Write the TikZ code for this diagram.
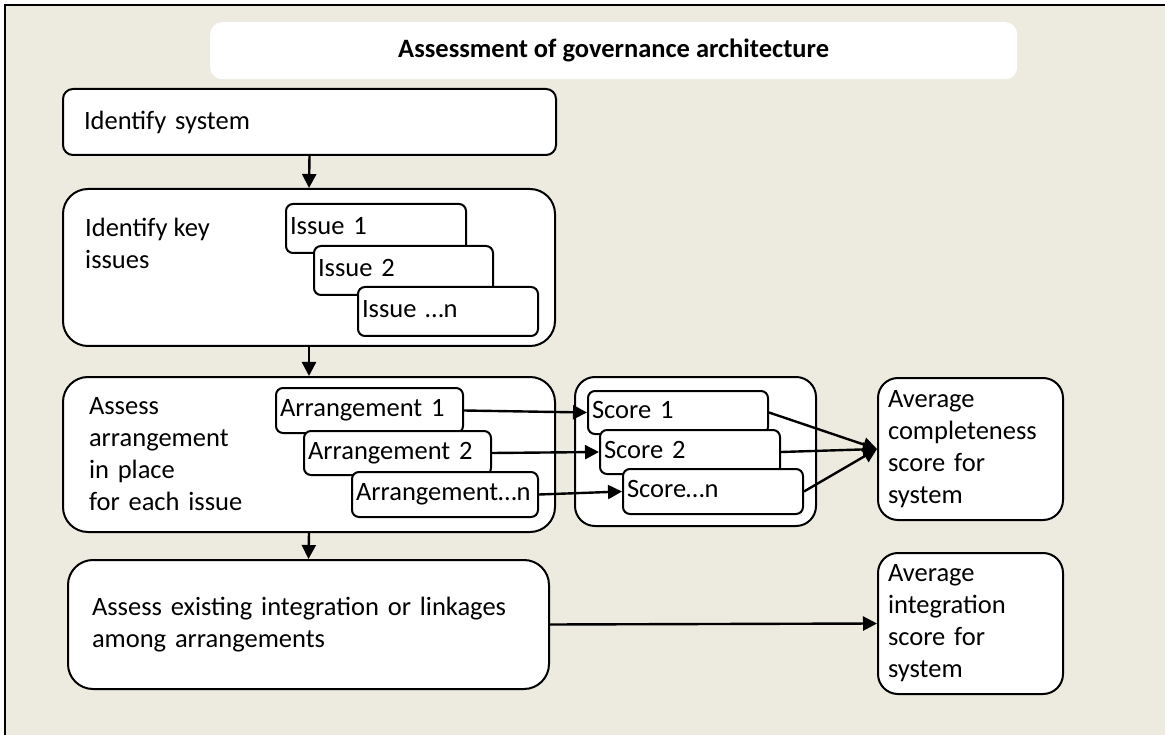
\documentclass[tikz,border=0pt]{standalone}
\usepackage{fontspec}
\setmainfont{Carlito}
\usetikzlibrary{arrows.meta}
\definecolor{paper}{HTML}{EDEAE0}
\newcommand\bodysize{\fontsize{26.5}{32}\selectfont}
\tikzset{
  panel/.style={draw=black, line width=2pt, fill=white, anchor=north west,
                align=left, inner ysep=0pt, font=\bodysize},
  card/.style={panel, rounded corners=7pt, inner xsep=4pt,
               text height=18pt, text depth=6pt},
  flow/.style={-{Triangle[length=14pt,width=14pt]}, line width=2.4pt},
}
\begin{document}
\begin{tikzpicture}[x=1pt,y=-1pt]
\useasboundingbox (0,0) rectangle (1165,735);
\clip (0,0) rectangle (1165,735);
\fill[white] (0,0) rectangle (1165,735);
% framed background panel
\draw[line width=2.2pt, fill=paper] (5,5) rectangle (1190,760);

% heading
\node[fill=white, rounded corners=12pt, anchor=north west, minimum width=807pt,
      minimum height=57pt, inner sep=0pt, font=\bodysize\bfseries] (title)
      at (210,22) {Assessment of governance architecture};

% step 1
\node[panel, rounded corners=10pt, minimum height=66pt, text width=451pt,
      inner xsep=21pt] (sys) at (62,88) {Identify system};

% step 2: key issues
\node[panel, rounded corners=25pt, minimum width=492pt, minimum height=157pt]
      (keys) at (62,188) {};
\node[anchor=north west, align=left, inner sep=0pt, font=\bodysize]
      (keystext) at (85,218) {Identify key\\issues};
\node[card, minimum height=49pt, text width=172pt] (i1) at (285,203) {Issue 1};
\node[card, minimum height=49pt, text width=171pt] (i2) at (313,245) {Issue 2};
\node[card, minimum height=49pt, text width=172pt] (in) at (357,286) {Issue …n};

% step 3: arrangements per issue
\node[panel, rounded corners=25pt, minimum height=155pt, text width=440pt,
      inner xsep=26pt] (asm) at (62,376) {Assess\\arrangement\\in place\\for each issue};
\node[card, minimum height=45pt, text width=179pt] (a1) at (275,387) {Arrangement 1};
\node[card, minimum height=44pt, text width=179pt] (a2) at (303,430) {Arrangement 2};
\node[card, minimum height=45pt, text width=178pt] (an) at (351,471) {Arrangement…n};

% scores
\node[panel, rounded corners=20pt, minimum width=241pt, minimum height=149pt]
      (scb) at (574,376) {};
\node[card, minimum height=43pt, text width=172pt] (s1) at (587,390) {Score 1};
\node[card, minimum height=44pt, text width=172pt] (s2) at (599,429) {Score 2};
\node[card, minimum height=45pt, text width=172pt] (sn) at (622,468) {Score…n};

\node[panel, rounded corners=20pt, minimum height=142pt, text width=165pt,
      inner xsep=10pt] (avc) at (877,377) {Average\\completeness\\score for\\system};

% step 4: integration
\node[panel, rounded corners=25pt, minimum height=129pt, text width=433pt,
      inner xsep=24pt] (integ) at (67,559)
      {Assess existing integration or linkages\\among arrangements};
\node[panel, rounded corners=20pt, minimum height=141pt, text width=165pt,
      inner xsep=10pt] (avi) at (877,552) {Average\\integration\\score for\\system};

% connectors
\draw[flow] (sys.south) -- (keys.north);
\draw[flow] (keys.south) -- (asm.north);
\draw[flow] (asm.south) -- (integ.north);
\draw[flow] (a1.east) -- (s1.west);
\draw[flow] (a2.east) -- (s2.west);
\draw[flow] (an.east) -- (sn.west);
\draw[flow] (s1.east) -- (avc.west);
\draw[flow] (s2.east) -- (avc.west);
\draw[flow] (sn.east) -- (avc.west);
\draw[flow] (integ.east) -- (avi.west);
\end{tikzpicture}
\end{document}
